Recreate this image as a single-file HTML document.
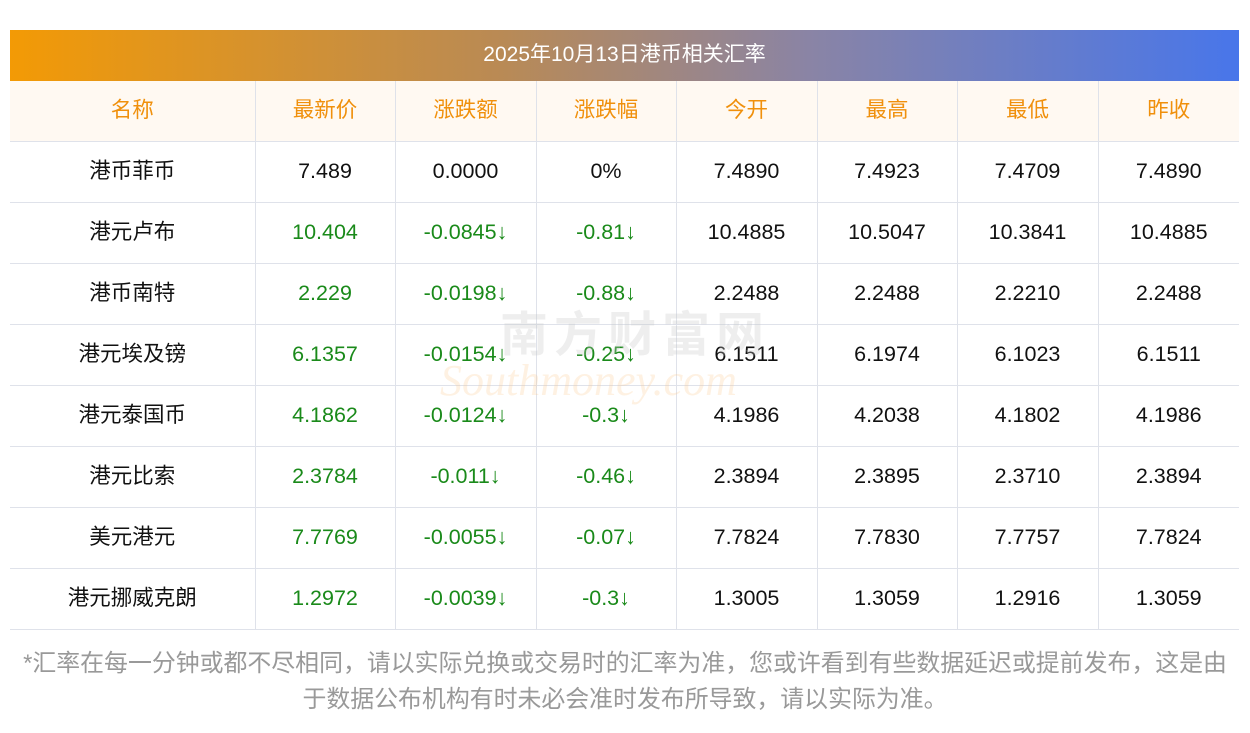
<!DOCTYPE html>
<html><head><meta charset="utf-8"><style>
body{margin:0;width:1250px;height:733px;background:#fff;font-family:"Liberation Sans","Noto Sans CJK SC",sans-serif;position:relative;overflow:hidden}
.title{position:absolute;left:10px;top:30px;width:1229px;height:51px;background:linear-gradient(90deg,#f39a05,#b98a55 40%,#8a84a5 65%,#4876ea);color:#fff;font-size:21px;text-align:center;line-height:49px}
table{position:absolute;left:10px;top:81px;width:1229px;border-collapse:collapse;table-layout:fixed}
td{height:60px;border-bottom:1px solid #dfe2ea;border-left:1px solid #dfe2ea;text-align:center;font-size:21.5px;color:#111;padding:0;line-height:58px;vertical-align:top}
td:first-child{border-left:none}
tr.h td{background:#fff9f2;color:#f0900c}
.g{color:#1a8a1a}
.note{position:absolute;left:0;width:1250px;top:646px;text-align:center;color:#999;font-size:23.9px;line-height:36px;white-space:nowrap}
.wm{position:absolute;left:500px;top:295px;font-size:48px;color:rgba(200,200,200,0.3);font-weight:bold;letter-spacing:6px}
.wm2{position:absolute;left:440px;top:355px;font-size:44px;color:rgba(250,200,140,0.25);font-style:italic;font-family:"Liberation Serif",serif}
</style></head><body>
<div class="title">2025年10月13日港币相关汇率</div>
<table>
<col style="width:245px"><col style="width:140px"><col style="width:141px"><col style="width:140px"><col style="width:141px"><col style="width:140px"><col style="width:141px"><col style="width:141px">
<tr class="h"><td>名称</td><td>最新价</td><td>涨跌额</td><td>涨跌幅</td><td>今开</td><td>最高</td><td>最低</td><td>昨收</td></tr>
<tr><td>港币菲币</td><td>7.489</td><td>0.0000</td><td>0%</td><td>7.4890</td><td>7.4923</td><td>7.4709</td><td>7.4890</td></tr>
<tr><td>港元卢布</td><td class="g">10.404</td><td class="g">-0.0845↓</td><td class="g">-0.81↓</td><td>10.4885</td><td>10.5047</td><td>10.3841</td><td>10.4885</td></tr>
<tr><td>港币南特</td><td class="g">2.229</td><td class="g">-0.0198↓</td><td class="g">-0.88↓</td><td>2.2488</td><td>2.2488</td><td>2.2210</td><td>2.2488</td></tr>
<tr><td>港元埃及镑</td><td class="g">6.1357</td><td class="g">-0.0154↓</td><td class="g">-0.25↓</td><td>6.1511</td><td>6.1974</td><td>6.1023</td><td>6.1511</td></tr>
<tr><td>港元泰国币</td><td class="g">4.1862</td><td class="g">-0.0124↓</td><td class="g">-0.3↓</td><td>4.1986</td><td>4.2038</td><td>4.1802</td><td>4.1986</td></tr>
<tr><td>港元比索</td><td class="g">2.3784</td><td class="g">-0.011↓</td><td class="g">-0.46↓</td><td>2.3894</td><td>2.3895</td><td>2.3710</td><td>2.3894</td></tr>
<tr><td>美元港元</td><td class="g">7.7769</td><td class="g">-0.0055↓</td><td class="g">-0.07↓</td><td>7.7824</td><td>7.7830</td><td>7.7757</td><td>7.7824</td></tr>
<tr><td>港元挪威克朗</td><td class="g">1.2972</td><td class="g">-0.0039↓</td><td class="g">-0.3↓</td><td>1.3005</td><td>1.3059</td><td>1.2916</td><td>1.3059</td></tr>
</table>
<div class="wm">南方财富网</div>
<div class="wm2">Southmoney.com</div>
<div class="note">*汇率在每一分钟或都不尽相同，请以实际兑换或交易时的汇率为准，您或许看到有些数据延迟或提前发布，这是由<br>于数据公布机构有时未必会准时发布所导致，请以实际为准。</div>
</body></html>
